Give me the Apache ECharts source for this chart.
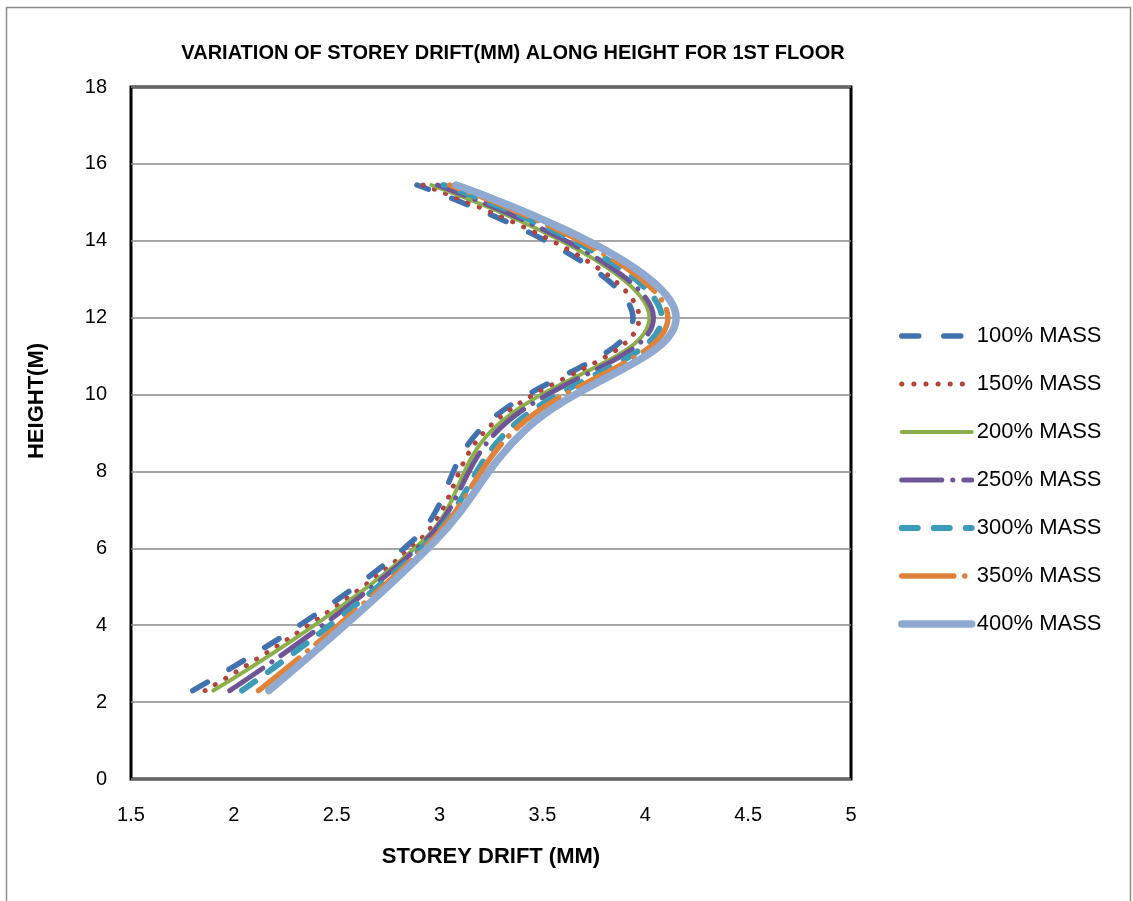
<!DOCTYPE html>
<html>
<head>
<meta charset="utf-8">
<script src="https://cdn.jsdelivr.net/npm/echarts@6/dist/echarts.min.js"></script>
<style>
html,body{margin:0;padding:0;background:#fff;}
#chart{width:1133px;height:901px;}
</style>
</head>
<body>
<div id="chart"></div>
<script>
// Heights (m) of the plotted points
const heights = [2.3, 6.2, 9.1, 12, 15.45];
// Storey drift (mm) per mass case
const seriesNames = ['100% MASS','150% MASS','200% MASS','250% MASS','300% MASS','350% MASS','400% MASS'];
const drift100 = [1.80, 2.87, 3.20, 3.94, 2.89];
const drift150 = [1.86, 2.90, 3.23, 3.97, 2.92];
const drift200 = [1.90, 2.92, 3.26, 4.02, 2.96];
const drift250 = [1.98, 2.93, 3.29, 4.04, 2.99];
const drift300 = [2.04, 2.95, 3.34, 4.08, 3.02];
const drift350 = [2.12, 2.96, 3.37, 4.11, 3.05];
const drift400 = [2.17, 2.98, 3.42, 4.15, 3.08];
const xTicks = [1.5, 2, 2.5, 3, 3.5, 4, 4.5, 5];
const yTicks = [0, 2, 4, 6, 8, 10, 12, 14, 16, 18];

const allDrift = [drift100, drift150, drift200, drift250, drift300, drift350, drift400];
const styles = [
  {color:'#4172AF', width:5.5, type:[17,25]},
  {color:'#B4423F', width:5, type:[0.1,12]},
  {color:'#8CAE4B', width:4, type:'solid'},
  {color:'#6E5598', width:5, type:[40,11,0.1,11]},
  {color:'#3C9BB6', width:6, type:[16,16]},
  {color:'#E0833A', width:5.5, type:[52,11,0.1,11]},
  {color:'#8FA9D0', width:7.5, type:'solid'}
];

const FONT = 'Liberation Sans';
const chart = echarts.init(document.getElementById('chart'), null, {renderer:'canvas'});
chart.setOption({
  backgroundColor:'#fff',
  animation:false,
  graphic:[
    {type:'rect', left:4, top:5, shape:{width:1124, height:900}, style:{fill:'none', stroke:'#8c8c8c', lineWidth:1.5}, silent:true},
    {type:'text', x:513, y:53, style:{text:'VARIATION OF STOREY DRIFT(MM) ALONG HEIGHT FOR 1ST FLOOR', font:'bold 20px "Liberation Sans"', fill:'#000', align:'center', verticalAlign:'middle'}},
    {type:'text', x:37, y:401, rotation:Math.PI/2, style:{text:'HEIGHT(M)', font:'bold 22px "Liberation Sans"', fill:'#000', align:'center', verticalAlign:'middle'}}
  ],
  grid:{left:131, right:282, top:87, bottom:122, show:true, borderColor:'#000', borderWidth:3, backgroundColor:'transparent'},
  legend:{
    orient:'vertical', left:893, top:320,
    itemWidth:70, itemHeight:14, itemGap:26,
    itemStyle:{opacity:0},
    lineStyle:{width:'inherit'},
    textStyle:{fontFamily:FONT, fontSize:22, color:'#000', lineHeight:22},
    data:seriesNames
  },
  xAxis:{
    type:'value', min:1.5, max:5, interval:0.5,
    name:'STOREY DRIFT (MM)', nameLocation:'middle', nameGap:67,
    nameTextStyle:{fontFamily:FONT, fontWeight:'bold', fontSize:22, color:'#000'},
    axisLine:{show:false}, axisTick:{show:false}, splitLine:{show:false},
    axisLabel:{fontFamily:FONT, fontSize:20, color:'#000', margin:26,
      formatter:v=>String(xTicks.find(t=>Math.abs(t-v)<1e-9) ?? v)}
  },
  yAxis:{
    type:'value', min:0, max:18, interval:2,
    axisLine:{show:false}, axisTick:{show:false},
    splitLine:{show:true, lineStyle:{color:'#888', width:1.5}},
    axisLabel:{fontFamily:FONT, fontSize:20, color:'#000', margin:24,
      formatter:v=>String(yTicks.find(t=>Math.abs(t-v)<1e-9) ?? v)}
  },
  series: seriesNames.map((n,i)=>({
    name:n, type:'line', smooth:0.4, symbol:'none',
    data: allDrift[i].map((x,k)=>[x, heights[k]]),
    lineStyle:{color:styles[i].color, width:styles[i].width, type:styles[i].type, cap:'round', join:'round'},
    itemStyle:{color:styles[i].color},
    z: 2+i
  }))
});
</script>
</body>
</html>
